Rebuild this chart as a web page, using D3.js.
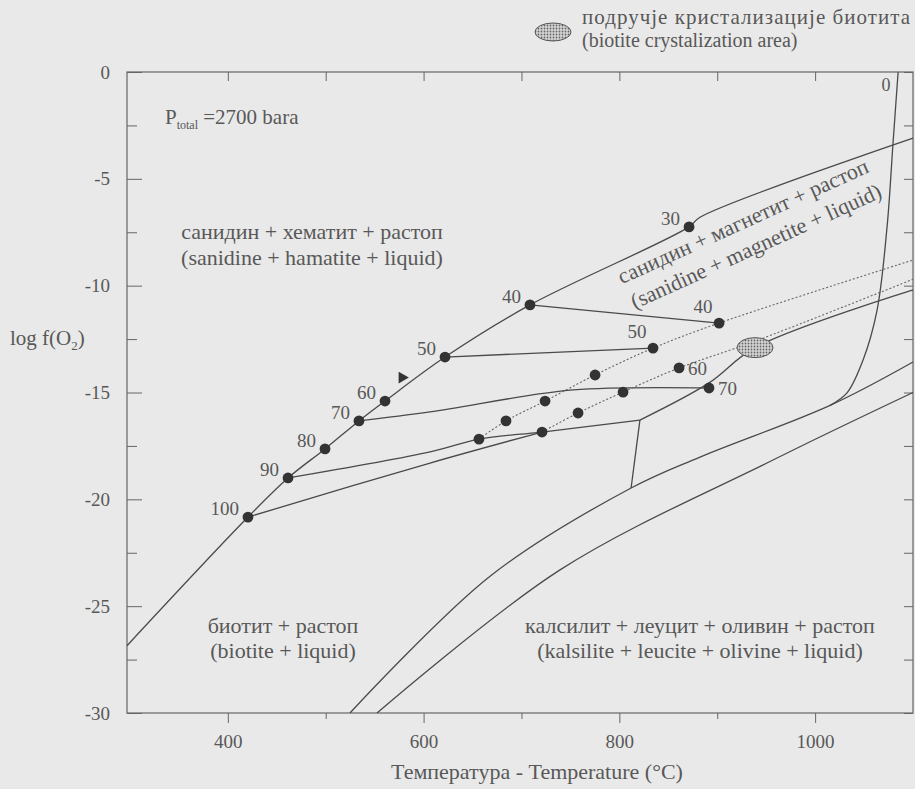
<!DOCTYPE html>
<html>
<head>
<meta charset="utf-8">
<script src="https://cdn.jsdelivr.net/npm/d3@7"></script>
<style>
body { margin: 0; background: #e9e9e9; }
</style>
</head>
<body>
<svg id="chart" width="915" height="789"></svg>
<script>
// ---- data (temperature °C, log fO2) ----
var xMajor = [400, 600, 800, 1000]
var xMinor = [500, 700, 900]
var yMajor = [0, -5, -10, -15, -20, -25, -30]
var yMinor = [-2.5, -7.5, -12.5, -17.5, -22.5, -27.5]

// upper boundary with annite contents
var upperCurve = [[297, -26.85], [420.6, -20.83], [461.5, -19.0], [499.3, -17.64], [534, -16.33],
    [560.6, -15.4], [621.9, -13.34], [708.7, -10.9], [871.2, -7.25], [882.4, -6.8], [1100, -3.09]]
var upperPct = ['100', '90', '80', '70', '60', '50', '40', '30']
var upperDots = [[420.6, -20.83], [461.5, -19.0], [499.3, -17.64], [534, -16.33],
    [560.6, -15.4], [621.9, -13.34], [708.7, -10.9], [871.2, -7.25]]

// 0 % curve
var zeroCurve = [[1084.8, 0], [1079.6, -3.32], [1073.5, -7.25], [1063.3, -11.14], [1049, -13.48],
    [1032.6, -15.02], [1015.3, -15.6]]

// tie lines and other solid boundaries
var tie40 = [[708.7, -10.9], [901.9, -11.75]]
var tie50 = [[621.9, -13.34], [834.4, -12.92]]
var tie70 = [[534, -16.33], [606.6, -15.91], [752.7, -14.88], [891.6, -14.79]]
var line90 = [[461.5, -19.0], [606.6, -17.78], [656.6, -17.18], [721, -16.85], [821, -16.29]]
var line100 = [[420.6, -20.83], [606.6, -18.3], [721, -16.85]]
var vertLine = [[821, -16.29], [812, -19.47]]
var ovalLine = [[821, -16.29], [891.6, -14.55], [938.6, -12.9], [1100, -10.2]]
var lowerA = [[524.8, -30], [667.9, -23.6], [812, -19.47], [882.4, -18.02], [1015.3, -15.6], [1100, -13.57]]
var lowerB = [[552.4, -30], [739.4, -23.3], [957, -18.16], [1100, -15.0]]

// dotted composition lines
var dotted1 = [[656.6, -17.18], [684.2, -16.33], [724.1, -15.4], [775.2, -14.18], [834.4, -12.92], [901.9, -11.75], [1100, -8.8]]
var dotted2 = [[721, -16.85], [757.8, -15.96], [803.8, -14.98], [861, -13.85], [938.6, -12.6], [1100, -9.7]]
var midDots = [[656.6, -17.18], [684.2, -16.33], [724.1, -15.4], [775.2, -14.18], [834.4, -12.92], [901.9, -11.75],
    [721, -16.85], [757.8, -15.96], [803.8, -14.98], [861, -13.85], [891.6, -14.79]]

// labelled points on the right: value, T, logfO2, side
var rightLabels = [['40', 901.9, -11.75, 'above'], ['50', 834.4, -12.92, 'above'],
    ['60', 861, -13.85, 'right'], ['70', 891.6, -14.79, 'right']]

var biotiteArea = [938.6, -12.9]
var arrowPt = [578, -14.3]

// ---- layout ----
var svg = d3.select('#chart').attr('font-family', 'Liberation Serif')
var ink = '#4a4a4a'
var axisInk = '#666'

var x = d3.scaleLinear().domain([297, 1100]).range([127, 913])
var y = d3.scaleLinear().domain([0, -30]).range([72, 713])

var line = d3.line().x(d => x(d[0])).y(d => y(d[1]))
var smooth = d3.line().x(d => x(d[0])).y(d => y(d[1])).curve(d3.curveCatmullRom.alpha(0.5))

var defs = svg.append('defs')
var pat = defs.append('pattern')
    .attr('id', 'dots').attr('width', 3).attr('height', 3)
    .attr('patternUnits', 'userSpaceOnUse')
pat.append('rect').attr('width', 3).attr('height', 3).attr('fill', '#d5d5d5')
pat.append('circle').attr('cx', 1.5).attr('cy', 1.5).attr('r', 0.9).attr('fill', '#666')

// frame
svg.append('rect')
    .attr('x', x(297)).attr('y', y(0))
    .attr('width', x(1100) - x(297)).attr('height', y(-30) - y(0))
    .attr('fill', 'none').attr('stroke', axisInk).attr('stroke-width', 1.2)

// axes
var gy = svg.append('g').attr('transform', 'translate(' + x(297) + ',0)')
    .call(d3.axisLeft(y).tickValues(yMajor).tickSize(-15).tickPadding(17).tickFormat(d => String(d)))
gy.call(g => g.select('.domain').remove())
gy.selectAll('text').style('font-size', '19px')
gy.selectAll('line').attr('stroke', axisInk)

svg.append('g').attr('transform', 'translate(' + x(297) + ',0)')
    .call(d3.axisLeft(y).tickValues(yMinor).tickSize(-10).tickFormat(''))
    .call(g => g.select('.domain').remove())
    .selectAll('line').attr('stroke', axisInk)

svg.append('g').attr('transform', 'translate(' + x(1100) + ',0)')
    .call(d3.axisRight(y).tickValues(yMajor.concat(yMinor)).tickSize(-9).tickFormat(''))
    .call(g => g.select('.domain').remove())
    .selectAll('line').attr('stroke', axisInk)

var gx = svg.append('g').attr('transform', 'translate(0,' + y(-30) + ')')
    .call(d3.axisBottom(x).tickValues(xMajor).tickSize(10).tickPadding(12).tickFormat(d => String(d)))
gx.call(g => g.select('.domain').remove())
gx.selectAll('text').style('font-size', '19px')
gx.selectAll('line').attr('stroke', axisInk)

svg.append('g').attr('transform', 'translate(0,' + y(-30) + ')')
    .call(d3.axisBottom(x).tickValues(xMinor).tickSize(6).tickFormat(''))
    .call(g => g.select('.domain').remove())
    .selectAll('line').attr('stroke', axisInk)

svg.append('g').attr('transform', 'translate(0,' + y(0) + ')')
    .call(d3.axisTop(x).tickValues(xMajor.concat(xMinor)).tickSize(-9).tickFormat(''))
    .call(g => g.select('.domain').remove())
    .selectAll('line').attr('stroke', axisInk)

// curves
var curves = [upperCurve, zeroCurve, lowerA, lowerB, line90, line100, tie70, ovalLine]
svg.selectAll('.curve').data(curves).enter().append('path')
    .attr('class', 'curve')
    .attr('d', smooth)
    .attr('fill', 'none').attr('stroke', ink).attr('stroke-width', 1.3)

svg.selectAll('.tie').data([tie40, tie50, vertLine]).enter().append('path')
    .attr('class', 'tie')
    .attr('d', line)
    .attr('fill', 'none').attr('stroke', ink).attr('stroke-width', 1.3)

svg.selectAll('.dotted').data([dotted1, dotted2]).enter().append('path')
    .attr('class', 'dotted')
    .attr('d', smooth)
    .attr('fill', 'none').attr('stroke', '#666').attr('stroke-width', 1.1)
    .attr('stroke-dasharray', '2,2')

// biotite crystallization area
svg.append('ellipse')
    .attr('cx', x(biotiteArea[0])).attr('cy', y(biotiteArea[1]))
    .attr('rx', 18).attr('ry', 10)
    .attr('fill', 'url(#dots)').attr('stroke', '#555').attr('stroke-width', 1)

// dots
svg.selectAll('.udot').data(upperDots).enter().append('circle')
    .attr('cx', d => x(d[0])).attr('cy', d => y(d[1])).attr('r', 5.4)
    .attr('fill', '#333')
svg.selectAll('.mdot').data(midDots).enter().append('circle')
    .attr('cx', d => x(d[0])).attr('cy', d => y(d[1])).attr('r', 5.4)
    .attr('fill', '#333')

svg.selectAll('.ulab').data(upperDots).enter().append('text')
    .attr('x', d => x(d[0]) - 9).attr('y', d => y(d[1]) - 2)
    .attr('text-anchor', 'end')
    .style('font-size', '19px')
    .text((d, i) => upperPct[i])

svg.selectAll('.rlab').data(rightLabels).enter().append('text')
    .attr('x', d => d[3] == 'right' ? x(d[1]) + 9 : x(d[1]) - 16)
    .attr('y', d => d[3] == 'right' ? y(d[2]) + 7 : y(d[2]) - 10)
    .attr('text-anchor', d => d[3] == 'right' ? 'start' : 'middle')
    .style('font-size', '19px')
    .text(d => d[0])

svg.append('path')
    .attr('d', d3.symbol().type(d3.symbolTriangle).size(60))
    .attr('transform', 'translate(' + x(arrowPt[0]) + ',' + y(arrowPt[1]) + ') rotate(90)')
    .attr('fill', '#333')

svg.append('text').attr('x', x(1072.5)).attr('y', y(-0.9)).attr('text-anchor', 'middle')
    .style('font-size', '18px').text('0')

// region labels
var fs = '22px'
svg.append('text').attr('x', 165).attr('y', 124).style('font-size', '21px')
    .call(t => {
        t.append('tspan').text('P')
        t.append('tspan').attr('dy', 5).style('font-size', '12px').text('total')
        t.append('tspan').attr('dy', -5).text(' =2700 bara')
    })

svg.append('text').attr('x', 312).attr('y', 239).attr('text-anchor', 'middle').style('font-size', fs)
    .text('санидин + хематит + растоп')
svg.append('text').attr('x', 312).attr('y', 265).attr('text-anchor', 'middle').style('font-size', fs)
    .text('(sanidine + hamatite + liquid)')

svg.append('text').attr('x', 283).attr('y', 633).attr('text-anchor', 'middle').style('font-size', fs)
    .text('биотит + растоп')
svg.append('text').attr('x', 283).attr('y', 658).attr('text-anchor', 'middle').style('font-size', fs)
    .text('(biotite + liquid)')

svg.append('text').attr('x', 700).attr('y', 633).attr('text-anchor', 'middle').style('font-size', fs)
    .text('калсилит + леуцит + оливин + растоп')
svg.append('text').attr('x', 700).attr('y', 658).attr('text-anchor', 'middle').style('font-size', fs)
    .text('(kalsilite + leucite + olivine + liquid)')

svg.append('text').attr('transform', 'translate(746,228) rotate(-24.4)')
    .attr('text-anchor', 'middle').style('font-size', fs)
    .text('санидин + магнетит + растоп')
svg.append('text').attr('transform', 'translate(759,253) rotate(-24.4)')
    .attr('text-anchor', 'middle').style('font-size', fs)
    .text('(sanidine + magnetite + liquid)')

// axis titles
svg.append('text').attr('x', 537).attr('y', 779).attr('text-anchor', 'middle').style('font-size', fs)
    .text('Температура - Temperature (°C)')
svg.append('text').attr('x', 10).attr('y', 345).style('font-size', '21px')
    .call(t => {
        t.append('tspan').text('log f(O')
        t.append('tspan').attr('dy', 5).style('font-size', '13px').text('2')
        t.append('tspan').attr('dy', -5).text(')')
    })

// legend
svg.append('ellipse').attr('cx', 553).attr('cy', 32).attr('rx', 18).attr('ry', 9)
    .attr('fill', 'url(#dots)').attr('stroke', '#555').attr('stroke-width', 1)
svg.append('text').attr('x', 582).attr('y', 24).style('font-size', '21px')
    .attr('textLength', 328).attr('lengthAdjust', 'spacing')
    .text('подручје кристализације биотита')
svg.append('text').attr('x', 582).attr('y', 47).style('font-size', '20px')
    .text('(biotite crystalization area)')

svg.selectAll('text').style('font-family', "'Liberation Serif'").style('fill', '#585858')
</script>
</body>
</html>
